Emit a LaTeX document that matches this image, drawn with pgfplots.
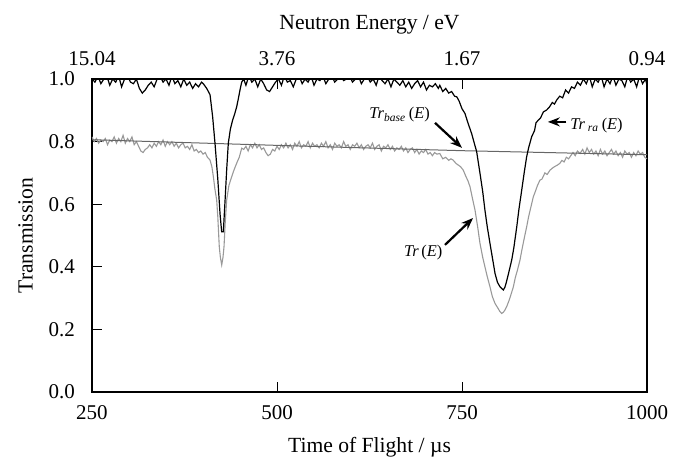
\documentclass[border=0pt]{standalone}
\usepackage{fontspec}
\setmainfont{Liberation Serif}
\newfontfamily\tnr{Liberation Serif}
\usepackage{pgfplots}
\pgfplotsset{compat=1.18}
\usetikzlibrary{arrows.meta}

\definecolor{trgray}{gray}{0.6}
\definecolor{basegray}{gray}{0.4}

\newcommand{\lblfont}{\tnr\fontsize{10.8}{13}\selectfont}
\newcommand{\tckfont}{\tnr\fontsize{10.5}{12.6}\selectfont}
\newcommand{\annfont}{\tnr\fontsize{8.2}{10}\selectfont}

\begin{document}
\begin{tikzpicture}[font=\tckfont]
\pgfplotsset{
  common/.style={
    scale only axis, width=277.5pt, height=156.5pt,
    xmin=250, xmax=1000, ymin=0, ymax=1,
    tick align=inside, major tick length=5pt,
    tick style={black, line width=0.5pt},
    axis line style={line width=0.7pt},
    tick label style={font=\tckfont},
    label style={font=\lblfont},
    /pgf/number format/assume math mode=true,
  },
}
\begin{axis}[common, name=ax,
  xtick={250,500,750,1000},
  xticklabels={250,500,750,1000},
  ytick={0,0.2,0.4,0.6,0.8,1.0},
  yticklabels={0.0,0.2,0.4,0.6,0.8,1.0},
  xtick pos=bottom, ytick pos=left,
  xticklabel style={yshift=-3pt},
  yticklabel style={xshift=-5pt},
  xlabel={Time of Flight / µs},
  ylabel={Transmission},
  xlabel style={yshift=-2pt},
  ylabel style={yshift=1pt},
  clip=true,
]
% Tr(E), measured transmission
\addplot[trgray, line width=0.55pt] coordinates {
(250,0.815) (253,0.80) (256,0.81) (259,0.795) (262,0.805) (265,0.80) (268,0.81) (271,0.79)
(274,0.805) (277,0.80) (280,0.815) (283,0.795) (286,0.81) (289,0.80) (292,0.82) (295,0.795)
(298,0.81) (301,0.80) (304,0.815) (307,0.79) (310,0.80) (313,0.785) (316,0.77) (319,0.765)
(322,0.775) (325,0.78) (328,0.79) (331,0.78) (334,0.795) (337,0.785) (340,0.80) (343,0.79)
(346,0.805) (349,0.785) (352,0.80) (355,0.79) (358,0.80) (361,0.785) (364,0.795) (367,0.78)
(370,0.79) (373,0.795) (376,0.78) (379,0.785) (382,0.775) (385,0.79) (388,0.77) (391,0.775)
(394,0.765) (397,0.77) (400,0.76) (403,0.765) (406,0.75) (409.5,0.741) (412,0.72) (414,0.688)
(416,0.65) (418.5,0.613) (420,0.56) (422,0.464) (423.5,0.43) (425.3,0.406) (427,0.43)
(428.4,0.464) (430,0.54) (432,0.613) (435,0.66) (438.8,0.688) (442,0.71) (445.5,0.731)
(449,0.75) (452.3,0.779) (455,0.775) (458,0.785) (461,0.77) (464,0.79) (467,0.78) (470,0.795)
(473,0.78) (476,0.79) (479,0.775) (482,0.78) (485,0.765) (488,0.755) (491,0.76) (494,0.775)
(497,0.77) (500,0.785) (503,0.775) (506,0.79) (509,0.78) (512,0.795) (515,0.78) (518,0.79)
(521,0.775) (524,0.795) (527,0.785) (530,0.80) (533,0.78) (536,0.79) (539,0.785) (542,0.80)
(545,0.78) (548,0.795) (551,0.785) (554,0.79) (557,0.78) (560,0.795) (563,0.785) (566,0.80)
(569,0.78) (572,0.79) (575,0.775) (578,0.795) (581,0.785) (584,0.79) (587,0.78) (590,0.80)
(593,0.785) (596,0.79) (599,0.775) (602,0.79) (605,0.785) (608,0.795) (611,0.78) (614,0.79)
(617,0.775) (620,0.785) (623,0.79) (626,0.78) (629,0.795) (632,0.775) (635,0.785) (638,0.79)
(641,0.77) (644,0.785) (647,0.78) (650,0.79) (653,0.775) (656,0.785) (659,0.77) (662,0.78)
(665,0.775) (668,0.785) (671,0.77) (674,0.78) (677,0.765) (680,0.775) (683,0.78) (686,0.765)
(689,0.775) (692,0.76) (695,0.77) (698,0.765) (701,0.775) (704,0.76) (707,0.765) (710,0.755)
(713,0.765) (716,0.76) (720,0.762) (724,0.745) (728,0.75) (732,0.74) (735,0.745) (738,0.741)
(742,0.73) (745,0.725) (748,0.72) (751.7,0.709) (755,0.69) (758,0.675) (760.8,0.656)
(764,0.62) (767.6,0.581) (771,0.53) (774.3,0.475) (778,0.43) (781,0.40) (784,0.37)
(787.8,0.336) (791,0.305) (794.6,0.283) (798,0.27) (801,0.258) (803.6,0.251) (806,0.255)
(808,0.262) (810.4,0.273) (814,0.295) (816,0.31) (819.4,0.336) (822,0.365) (825,0.39)
(828.4,0.422) (831,0.455) (834,0.49) (837.4,0.528) (840,0.56) (843,0.59) (846.4,0.624)
(849,0.64) (852,0.66) (855.4,0.677) (858,0.68) (862,0.70) (865,0.695) (869,0.709) (872,0.715)
(875,0.72) (879,0.725) (882.4,0.731) (885,0.74) (888,0.735) (891,0.75) (894,0.745) (897,0.755)
(900,0.765) (903,0.755) (906,0.77) (909.5,0.762) (913,0.775) (916,0.76) (919,0.78) (922,0.765)
(925,0.775) (928,0.76) (931,0.77) (934,0.755) (937,0.775) (940,0.76) (943,0.77) (946,0.755)
(949,0.765) (952,0.775) (955,0.76) (958,0.77) (961,0.755) (964,0.765) (967,0.75) (970,0.77)
(973,0.76) (976,0.765) (979,0.75) (982,0.765) (985,0.755) (988,0.77) (991,0.76) (994,0.765)
(997,0.75) (1000,0.745)
};
% Tr_base(E)
\addplot[basegray, line width=0.5pt] coordinates {
(250,0.806) (500,0.788) (750,0.771) (1000,0.758)
};
% Tr_ra(E)
\addplot[black, line width=0.6pt] coordinates {
(250,1.00) (254,0.99) (258,1.01) (262,0.985) (266,1.00) (270,1.01) (274,0.98) (278,1.00)
(282,0.99) (286,1.01) (290,0.975) (294,1.00) (298,1.01) (302,0.99) (306,0.985) (310,1.00)
(314,0.97) (318,0.955) (322,0.965) (326,0.98) (330,0.99) (334,0.975) (338,1.00) (342,1.01)
(346,0.99) (350,1.00) (354,0.98) (358,1.01) (362,0.985) (366,0.995) (370,0.975) (374,1.00)
(378,0.98) (382,0.99) (386,0.97) (390,0.985) (394,0.975) (398,0.99) (400.4,0.985) (405,0.97)
(409.5,0.95) (413,0.88) (416.2,0.795) (420,0.68) (423,0.57) (425.2,0.512) (427.5,0.512)
(430,0.62) (432,0.71) (434.2,0.795) (437,0.84) (440.1,0.869) (443,0.89) (445.5,0.911)
(448,0.94) (450,0.965) (452.3,0.99) (455,1.00) (458,0.98) (462,1.01) (466,0.99) (470,1.00)
(474,0.975) (478,1.00) (482,0.985) (486,0.965) (490,0.96) (494,0.975) (498,0.99) (502,1.00)
(506,0.98) (510,1.01) (514,0.99) (518,0.995) (522,0.975) (526,1.00) (530,1.01) (534,0.985)
(538,1.00) (542,0.99) (546,1.01) (550,0.98) (554,1.00) (558,0.995) (562,1.01) (566,0.985)
(570,1.00) (574,1.01) (578,0.99) (582,1.00) (586,1.01) (590,0.995) (594,1.00) (598,1.01)
(602,0.99) (606,1.00) (610,1.01) (614,0.985) (618,1.00) (622,1.01) (626,0.99) (630,1.00)
(634,0.98) (638,1.01) (642,0.995) (646,0.985) (650,1.00) (654,0.975) (658,1.00) (662,0.99)
(666,0.98) (670,0.995) (674,0.975) (678,0.99) (682,0.97) (686,0.985) (690,0.995) (694,0.975)
(698,0.99) (702,0.965) (706,0.98) (710,0.975) (714,0.985) (718,0.97) (720,0.98) (724,0.96)
(728,0.97) (732,0.955) (736,0.96) (740,0.945) (743,0.943) (746,0.93) (750,0.905) (754,0.89)
(758,0.86) (763,0.826) (766,0.80) (769.8,0.768) (774.3,0.699) (778,0.64) (781,0.581)
(784,0.53) (787.8,0.475) (791,0.43) (794.6,0.379) (798,0.35) (801.4,0.336) (804,0.33)
(805.9,0.326) (808,0.335) (809.5,0.347) (813,0.38) (817.2,0.422) (820,0.46) (824,0.528)
(827,0.585) (830.7,0.645) (834,0.70) (837.4,0.752) (840,0.78) (844.2,0.816) (848,0.835)
(850,0.86) (853.2,0.869) (856,0.875) (860,0.895) (864.4,0.901) (868,0.91) (872,0.925)
(875,0.92) (878,0.933) (882,0.945) (886,0.94) (890,0.965) (894,0.955) (898,0.975) (902,0.97)
(906,0.99) (910,0.98) (914,1.00) (918,0.985) (922,1.01) (926,0.975) (930,1.00) (934,0.99)
(938,1.01) (942,0.975) (946,1.00) (950,0.985) (954,1.01) (958,0.98) (962,1.00) (966,0.995)
(970,0.975) (974,1.01) (978,0.99) (982,1.00) (986,0.975) (990,1.01) (994,0.985) (998,1.00)
(1000,0.98)
};
% annotations
\node[anchor=east, inner sep=0pt, font=\annfont]
  at (axis cs:707,0.885) {\textit{Tr}\textsubscript{\textit{base}}\,(\textit{E})};
\draw[-{Stealth[length=6pt,width=4.5pt]}, line width=1.1pt] (axis cs:713.5,0.86) -- (axis cs:750,0.78);
\node[anchor=west, inner sep=0pt, font=\annfont]
  at (axis cs:896,0.85) {\textit{Tr}\,\textsubscript{\textit{ra}}\,(\textit{E})};
\draw[-{Stealth[length=6pt,width=4.5pt]}, line width=1.1pt] (axis cs:891,0.863) -- (axis cs:866,0.863);
\node[anchor=east, inner sep=0pt, font=\annfont]
  at (axis cs:724,0.447) {\textit{Tr}\,(\textit{E})};
\draw[-{Stealth[length=6pt,width=4.5pt]}, line width=1.1pt] (axis cs:727,0.47) -- (axis cs:765,0.556);
\end{axis}
\begin{axis}[common,
  axis x line*=top, axis y line=none,
  xtick={250,500,750,1000},
  xticklabels={15.04,3.76,1.67,0.94},
  xticklabel style={yshift=3pt},
  xlabel={Neutron Energy / eV},
  xlabel style={yshift=2pt},
]
\end{axis}
\path ([xshift=-46pt,yshift=-34.5pt]ax.south west) rectangle ([xshift=20.5pt,yshift=39.5pt]ax.north east);
\end{tikzpicture}
\end{document}
